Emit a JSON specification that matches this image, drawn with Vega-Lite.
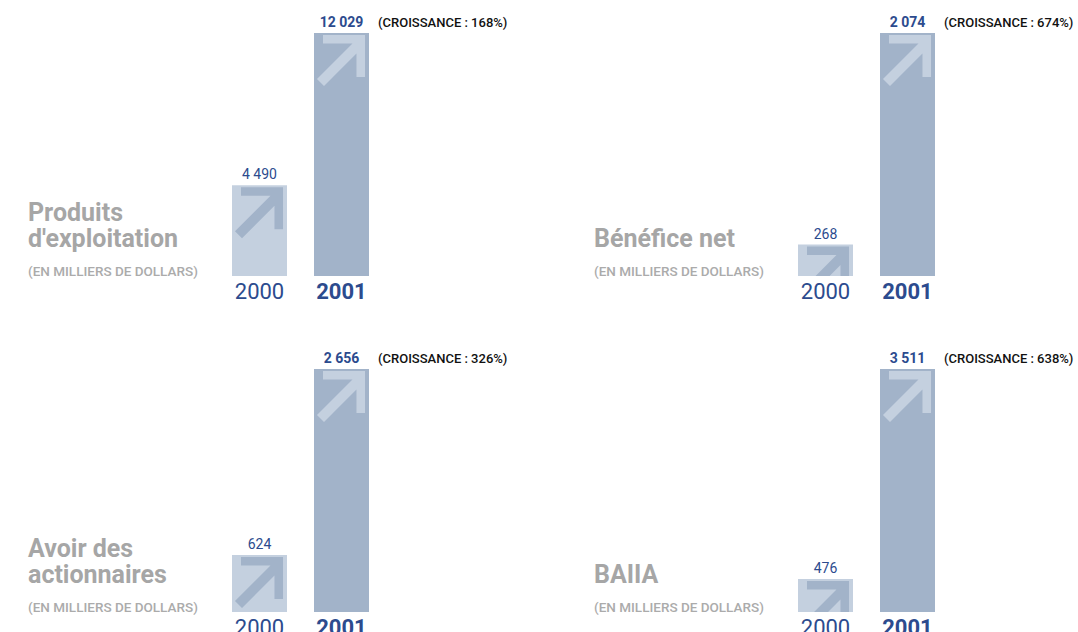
{
  "$schema": "https://vega.github.io/schema/vega-lite/v6.json",
  "padding": {"left": 28, "top": 16, "right": 0, "bottom": 0},
  "bounds": "flush",
  "background": "white",
  "config": {
    "view": {"stroke": null},
    "font": "Roboto",
    "locale": {"number": {"decimal": ",", "thousands": " ", "grouping": [3], "currency": ["", " $"]}}
  },
  "data": {
    "values": [
      {"panel": 1, "title1": "Produits", "title2": "d'exploitation", "year": "2000", "value": 4490, "growth": ""},
      {"panel": 1, "title1": "Produits", "title2": "d'exploitation", "year": "2001", "value": 12029, "growth": "(CROISSANCE : 168%)"},
      {"panel": 2, "title1": "", "title2": "Bénéfice net", "year": "2000", "value": 268, "growth": ""},
      {"panel": 2, "title1": "", "title2": "Bénéfice net", "year": "2001", "value": 2074, "growth": "(CROISSANCE : 674%)"},
      {"panel": 3, "title1": "Avoir des", "title2": "actionnaires", "year": "2000", "value": 624, "growth": ""},
      {"panel": 3, "title1": "Avoir des", "title2": "actionnaires", "year": "2001", "value": 2656, "growth": "(CROISSANCE : 326%)"},
      {"panel": 4, "title1": "", "title2": "BAIIA", "year": "2000", "value": 476, "growth": ""},
      {"panel": 4, "title1": "", "title2": "BAIIA", "year": "2001", "value": 3511, "growth": "(CROISSANCE : 638%)"}
    ]
  },
  "columns": 2,
  "spacing": {"row": 93, "column": 225},
  "resolve": {"scale": {"y": "independent"}},
  "concat": [
    {
      "transform": [{"filter": "datum.panel === 1"}],
      "width": 341, "height": 243,
      "layer": [
        {"mark": {"type": "bar"}, "encoding": {"x": {"field": "year", "type": "nominal", "scale": {"domain": ["2000", "2001"], "range": [204, 341], "paddingInner": 0.3293, "paddingOuter": 0}, "axis": null}, "y": {"field": "value", "type": "quantitative", "scale": {"nice": false, "zero": true}, "axis": null}, "color": {"condition": {"test": "datum.year === '2000'", "value": "#c4d0df"}, "value": "#a2b3c9"}}},
        {"mark": {"type": "point", "shape": "M-0.673,0.073L0.855,0.073L0.855,1.6L0.545,1.6L0.545,0.745L-0.636,1.927L-0.891,1.673L0.4,0.382L-0.673,0.382Z", "filled": true, "size": 3025, "opacity": 1, "strokeWidth": 0, "clip": true}, "encoding": {"x": {"field": "year", "type": "nominal", "axis": null}, "y": {"field": "value", "type": "quantitative", "axis": null}, "color": {"condition": {"test": "datum.year === '2000'", "value": "#a2b3c9"}, "value": "#c4d0df"}}},
        {"transform": [{"filter": {"field": "year", "equal": "2000"}}], "mark": {"type": "text", "baseline": "bottom", "dy": -3, "fontSize": 14, "color": "#2c4b8e"}, "encoding": {"x": {"field": "year", "type": "nominal", "axis": null}, "y": {"field": "value", "type": "quantitative", "axis": null}, "text": {"field": "value", "type": "quantitative", "format": ",d"}}},
        {"transform": [{"filter": {"field": "year", "equal": "2001"}}], "mark": {"type": "text", "baseline": "bottom", "dy": -3, "fontSize": 14, "fontWeight": "bold", "color": "#2c4b8e"}, "encoding": {"x": {"field": "year", "type": "nominal", "axis": null}, "y": {"field": "value", "type": "quantitative", "axis": null}, "text": {"field": "value", "type": "quantitative", "format": ",d"}}},
        {"transform": [{"filter": {"field": "year", "equal": "2001"}}], "mark": {"type": "text", "baseline": "bottom", "align": "left", "dy": -3, "dx": 9, "fontSize": 13, "fontWeight": 500, "color": "#111111"}, "encoding": {"x": {"field": "year", "type": "nominal", "bandPosition": 1, "axis": null}, "y": {"field": "value", "type": "quantitative", "axis": null}, "text": {"field": "growth", "type": "nominal"}}},
        {"transform": [{"filter": {"field": "year", "equal": "2000"}}], "mark": {"type": "text", "baseline": "alphabetic", "dy": 23, "fontSize": 22, "fontWeight": "normal", "color": "#2c4b8e"}, "encoding": {"x": {"field": "year", "type": "nominal", "axis": null}, "y": {"datum": 0, "type": "quantitative", "axis": null}, "text": {"field": "year", "type": "nominal"}}},
        {"transform": [{"filter": {"field": "year", "equal": "2001"}}], "mark": {"type": "text", "baseline": "alphabetic", "dy": 23, "fontSize": 22, "fontWeight": "bold", "color": "#2c4b8e"}, "encoding": {"x": {"field": "year", "type": "nominal", "axis": null}, "y": {"datum": 0, "type": "quantitative", "axis": null}, "text": {"field": "year", "type": "nominal"}}},
        {"transform": [{"filter": {"field": "year", "equal": "2001"}}], "mark": {"type": "text", "baseline": "alphabetic", "align": "left", "dy": -55, "fontSize": 25, "fontWeight": "bold", "color": "#a6a6a6"}, "encoding": {"x": {"value": 0}, "y": {"datum": 0, "type": "quantitative", "axis": null}, "text": {"field": "title1", "type": "nominal"}}},
        {"transform": [{"filter": {"field": "year", "equal": "2001"}}], "mark": {"type": "text", "baseline": "alphabetic", "align": "left", "dy": -29, "fontSize": 25, "fontWeight": "bold", "color": "#a6a6a6"}, "encoding": {"x": {"value": 0}, "y": {"datum": 0, "type": "quantitative", "axis": null}, "text": {"field": "title2", "type": "nominal"}}},
        {"transform": [{"filter": {"field": "year", "equal": "2001"}}], "mark": {"type": "text", "baseline": "alphabetic", "align": "left", "dy": 0, "fontSize": 13.5, "fontWeight": 500, "color": "#ababab"}, "encoding": {"x": {"value": 0}, "y": {"datum": 0, "type": "quantitative", "axis": null}, "text": {"value": "(EN MILLIERS DE DOLLARS)"}}}
      ]
    },
    {
      "transform": [{"filter": "datum.panel === 2"}],
      "width": 341, "height": 243,
      "layer": [
        {"mark": {"type": "bar"}, "encoding": {"x": {"field": "year", "type": "nominal", "scale": {"domain": ["2000", "2001"], "range": [204, 341], "paddingInner": 0.3293, "paddingOuter": 0}, "axis": null}, "y": {"field": "value", "type": "quantitative", "scale": {"nice": false, "zero": true}, "axis": null}, "color": {"condition": {"test": "datum.year === '2000'", "value": "#c4d0df"}, "value": "#a2b3c9"}}},
        {"mark": {"type": "point", "shape": "M-0.673,0.073L0.855,0.073L0.855,1.6L0.545,1.6L0.545,0.745L-0.636,1.927L-0.891,1.673L0.4,0.382L-0.673,0.382Z", "filled": true, "size": 3025, "opacity": 1, "strokeWidth": 0, "clip": true}, "encoding": {"x": {"field": "year", "type": "nominal", "axis": null}, "y": {"field": "value", "type": "quantitative", "axis": null}, "color": {"condition": {"test": "datum.year === '2000'", "value": "#a2b3c9"}, "value": "#c4d0df"}}},
        {"transform": [{"filter": {"field": "year", "equal": "2000"}}], "mark": {"type": "text", "baseline": "bottom", "dy": -3, "fontSize": 14, "color": "#2c4b8e"}, "encoding": {"x": {"field": "year", "type": "nominal", "axis": null}, "y": {"field": "value", "type": "quantitative", "axis": null}, "text": {"field": "value", "type": "quantitative", "format": ",d"}}},
        {"transform": [{"filter": {"field": "year", "equal": "2001"}}], "mark": {"type": "text", "baseline": "bottom", "dy": -3, "fontSize": 14, "fontWeight": "bold", "color": "#2c4b8e"}, "encoding": {"x": {"field": "year", "type": "nominal", "axis": null}, "y": {"field": "value", "type": "quantitative", "axis": null}, "text": {"field": "value", "type": "quantitative", "format": ",d"}}},
        {"transform": [{"filter": {"field": "year", "equal": "2001"}}], "mark": {"type": "text", "baseline": "bottom", "align": "left", "dy": -3, "dx": 9, "fontSize": 13, "fontWeight": 500, "color": "#111111"}, "encoding": {"x": {"field": "year", "type": "nominal", "bandPosition": 1, "axis": null}, "y": {"field": "value", "type": "quantitative", "axis": null}, "text": {"field": "growth", "type": "nominal"}}},
        {"transform": [{"filter": {"field": "year", "equal": "2000"}}], "mark": {"type": "text", "baseline": "alphabetic", "dy": 23, "fontSize": 22, "fontWeight": "normal", "color": "#2c4b8e"}, "encoding": {"x": {"field": "year", "type": "nominal", "axis": null}, "y": {"datum": 0, "type": "quantitative", "axis": null}, "text": {"field": "year", "type": "nominal"}}},
        {"transform": [{"filter": {"field": "year", "equal": "2001"}}], "mark": {"type": "text", "baseline": "alphabetic", "dy": 23, "fontSize": 22, "fontWeight": "bold", "color": "#2c4b8e"}, "encoding": {"x": {"field": "year", "type": "nominal", "axis": null}, "y": {"datum": 0, "type": "quantitative", "axis": null}, "text": {"field": "year", "type": "nominal"}}},
        {"transform": [{"filter": {"field": "year", "equal": "2001"}}], "mark": {"type": "text", "baseline": "alphabetic", "align": "left", "dy": -55, "fontSize": 25, "fontWeight": "bold", "color": "#a6a6a6"}, "encoding": {"x": {"value": 0}, "y": {"datum": 0, "type": "quantitative", "axis": null}, "text": {"field": "title1", "type": "nominal"}}},
        {"transform": [{"filter": {"field": "year", "equal": "2001"}}], "mark": {"type": "text", "baseline": "alphabetic", "align": "left", "dy": -29, "fontSize": 25, "fontWeight": "bold", "color": "#a6a6a6"}, "encoding": {"x": {"value": 0}, "y": {"datum": 0, "type": "quantitative", "axis": null}, "text": {"field": "title2", "type": "nominal"}}},
        {"transform": [{"filter": {"field": "year", "equal": "2001"}}], "mark": {"type": "text", "baseline": "alphabetic", "align": "left", "dy": 0, "fontSize": 13.5, "fontWeight": 500, "color": "#ababab"}, "encoding": {"x": {"value": 0}, "y": {"datum": 0, "type": "quantitative", "axis": null}, "text": {"value": "(EN MILLIERS DE DOLLARS)"}}}
      ]
    },
    {
      "transform": [{"filter": "datum.panel === 3"}],
      "width": 341, "height": 243,
      "layer": [
        {"mark": {"type": "bar"}, "encoding": {"x": {"field": "year", "type": "nominal", "scale": {"domain": ["2000", "2001"], "range": [204, 341], "paddingInner": 0.3293, "paddingOuter": 0}, "axis": null}, "y": {"field": "value", "type": "quantitative", "scale": {"nice": false, "zero": true}, "axis": null}, "color": {"condition": {"test": "datum.year === '2000'", "value": "#c4d0df"}, "value": "#a2b3c9"}}},
        {"mark": {"type": "point", "shape": "M-0.673,0.073L0.855,0.073L0.855,1.6L0.545,1.6L0.545,0.745L-0.636,1.927L-0.891,1.673L0.4,0.382L-0.673,0.382Z", "filled": true, "size": 3025, "opacity": 1, "strokeWidth": 0, "clip": true}, "encoding": {"x": {"field": "year", "type": "nominal", "axis": null}, "y": {"field": "value", "type": "quantitative", "axis": null}, "color": {"condition": {"test": "datum.year === '2000'", "value": "#a2b3c9"}, "value": "#c4d0df"}}},
        {"transform": [{"filter": {"field": "year", "equal": "2000"}}], "mark": {"type": "text", "baseline": "bottom", "dy": -3, "fontSize": 14, "color": "#2c4b8e"}, "encoding": {"x": {"field": "year", "type": "nominal", "axis": null}, "y": {"field": "value", "type": "quantitative", "axis": null}, "text": {"field": "value", "type": "quantitative", "format": ",d"}}},
        {"transform": [{"filter": {"field": "year", "equal": "2001"}}], "mark": {"type": "text", "baseline": "bottom", "dy": -3, "fontSize": 14, "fontWeight": "bold", "color": "#2c4b8e"}, "encoding": {"x": {"field": "year", "type": "nominal", "axis": null}, "y": {"field": "value", "type": "quantitative", "axis": null}, "text": {"field": "value", "type": "quantitative", "format": ",d"}}},
        {"transform": [{"filter": {"field": "year", "equal": "2001"}}], "mark": {"type": "text", "baseline": "bottom", "align": "left", "dy": -3, "dx": 9, "fontSize": 13, "fontWeight": 500, "color": "#111111"}, "encoding": {"x": {"field": "year", "type": "nominal", "bandPosition": 1, "axis": null}, "y": {"field": "value", "type": "quantitative", "axis": null}, "text": {"field": "growth", "type": "nominal"}}},
        {"transform": [{"filter": {"field": "year", "equal": "2000"}}], "mark": {"type": "text", "baseline": "alphabetic", "dy": 23, "fontSize": 22, "fontWeight": "normal", "color": "#2c4b8e"}, "encoding": {"x": {"field": "year", "type": "nominal", "axis": null}, "y": {"datum": 0, "type": "quantitative", "axis": null}, "text": {"field": "year", "type": "nominal"}}},
        {"transform": [{"filter": {"field": "year", "equal": "2001"}}], "mark": {"type": "text", "baseline": "alphabetic", "dy": 23, "fontSize": 22, "fontWeight": "bold", "color": "#2c4b8e"}, "encoding": {"x": {"field": "year", "type": "nominal", "axis": null}, "y": {"datum": 0, "type": "quantitative", "axis": null}, "text": {"field": "year", "type": "nominal"}}},
        {"transform": [{"filter": {"field": "year", "equal": "2001"}}], "mark": {"type": "text", "baseline": "alphabetic", "align": "left", "dy": -55, "fontSize": 25, "fontWeight": "bold", "color": "#a6a6a6"}, "encoding": {"x": {"value": 0}, "y": {"datum": 0, "type": "quantitative", "axis": null}, "text": {"field": "title1", "type": "nominal"}}},
        {"transform": [{"filter": {"field": "year", "equal": "2001"}}], "mark": {"type": "text", "baseline": "alphabetic", "align": "left", "dy": -29, "fontSize": 25, "fontWeight": "bold", "color": "#a6a6a6"}, "encoding": {"x": {"value": 0}, "y": {"datum": 0, "type": "quantitative", "axis": null}, "text": {"field": "title2", "type": "nominal"}}},
        {"transform": [{"filter": {"field": "year", "equal": "2001"}}], "mark": {"type": "text", "baseline": "alphabetic", "align": "left", "dy": 0, "fontSize": 13.5, "fontWeight": 500, "color": "#ababab"}, "encoding": {"x": {"value": 0}, "y": {"datum": 0, "type": "quantitative", "axis": null}, "text": {"value": "(EN MILLIERS DE DOLLARS)"}}}
      ]
    },
    {
      "transform": [{"filter": "datum.panel === 4"}],
      "width": 341, "height": 243,
      "layer": [
        {"mark": {"type": "bar"}, "encoding": {"x": {"field": "year", "type": "nominal", "scale": {"domain": ["2000", "2001"], "range": [204, 341], "paddingInner": 0.3293, "paddingOuter": 0}, "axis": null}, "y": {"field": "value", "type": "quantitative", "scale": {"nice": false, "zero": true}, "axis": null}, "color": {"condition": {"test": "datum.year === '2000'", "value": "#c4d0df"}, "value": "#a2b3c9"}}},
        {"mark": {"type": "point", "shape": "M-0.673,0.073L0.855,0.073L0.855,1.6L0.545,1.6L0.545,0.745L-0.636,1.927L-0.891,1.673L0.4,0.382L-0.673,0.382Z", "filled": true, "size": 3025, "opacity": 1, "strokeWidth": 0, "clip": true}, "encoding": {"x": {"field": "year", "type": "nominal", "axis": null}, "y": {"field": "value", "type": "quantitative", "axis": null}, "color": {"condition": {"test": "datum.year === '2000'", "value": "#a2b3c9"}, "value": "#c4d0df"}}},
        {"transform": [{"filter": {"field": "year", "equal": "2000"}}], "mark": {"type": "text", "baseline": "bottom", "dy": -3, "fontSize": 14, "color": "#2c4b8e"}, "encoding": {"x": {"field": "year", "type": "nominal", "axis": null}, "y": {"field": "value", "type": "quantitative", "axis": null}, "text": {"field": "value", "type": "quantitative", "format": ",d"}}},
        {"transform": [{"filter": {"field": "year", "equal": "2001"}}], "mark": {"type": "text", "baseline": "bottom", "dy": -3, "fontSize": 14, "fontWeight": "bold", "color": "#2c4b8e"}, "encoding": {"x": {"field": "year", "type": "nominal", "axis": null}, "y": {"field": "value", "type": "quantitative", "axis": null}, "text": {"field": "value", "type": "quantitative", "format": ",d"}}},
        {"transform": [{"filter": {"field": "year", "equal": "2001"}}], "mark": {"type": "text", "baseline": "bottom", "align": "left", "dy": -3, "dx": 9, "fontSize": 13, "fontWeight": 500, "color": "#111111"}, "encoding": {"x": {"field": "year", "type": "nominal", "bandPosition": 1, "axis": null}, "y": {"field": "value", "type": "quantitative", "axis": null}, "text": {"field": "growth", "type": "nominal"}}},
        {"transform": [{"filter": {"field": "year", "equal": "2000"}}], "mark": {"type": "text", "baseline": "alphabetic", "dy": 23, "fontSize": 22, "fontWeight": "normal", "color": "#2c4b8e"}, "encoding": {"x": {"field": "year", "type": "nominal", "axis": null}, "y": {"datum": 0, "type": "quantitative", "axis": null}, "text": {"field": "year", "type": "nominal"}}},
        {"transform": [{"filter": {"field": "year", "equal": "2001"}}], "mark": {"type": "text", "baseline": "alphabetic", "dy": 23, "fontSize": 22, "fontWeight": "bold", "color": "#2c4b8e"}, "encoding": {"x": {"field": "year", "type": "nominal", "axis": null}, "y": {"datum": 0, "type": "quantitative", "axis": null}, "text": {"field": "year", "type": "nominal"}}},
        {"transform": [{"filter": {"field": "year", "equal": "2001"}}], "mark": {"type": "text", "baseline": "alphabetic", "align": "left", "dy": -55, "fontSize": 25, "fontWeight": "bold", "color": "#a6a6a6"}, "encoding": {"x": {"value": 0}, "y": {"datum": 0, "type": "quantitative", "axis": null}, "text": {"field": "title1", "type": "nominal"}}},
        {"transform": [{"filter": {"field": "year", "equal": "2001"}}], "mark": {"type": "text", "baseline": "alphabetic", "align": "left", "dy": -29, "fontSize": 25, "fontWeight": "bold", "color": "#a6a6a6"}, "encoding": {"x": {"value": 0}, "y": {"datum": 0, "type": "quantitative", "axis": null}, "text": {"field": "title2", "type": "nominal"}}},
        {"transform": [{"filter": {"field": "year", "equal": "2001"}}], "mark": {"type": "text", "baseline": "alphabetic", "align": "left", "dy": 0, "fontSize": 13.5, "fontWeight": 500, "color": "#ababab"}, "encoding": {"x": {"value": 0}, "y": {"datum": 0, "type": "quantitative", "axis": null}, "text": {"value": "(EN MILLIERS DE DOLLARS)"}}}
      ]
    }
  ]
}
